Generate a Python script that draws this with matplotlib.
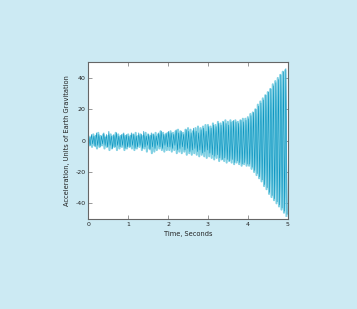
import numpy as np
import matplotlib
matplotlib.use("Agg")
import matplotlib.pyplot as plt

# per-cycle peak values (16 cycles per second, 0-5 s)
dark_max = [2,4,3,5,4,3,5,4,6,3,4,5,3,4,5,4,
            3,5,4,3,5,4,6,3,4,5,4,3,5,6,4,5,
            6,5,4,7,5,6,4,7,6,5,8,6,5,7,8,6,
            9,8,10,9,11,10,12,11,10,12,13,12,11,13,12,13,
            14,16,18,20,22,24,26,29,31,33,35,37,39,42,44,46]
dark_min = [-3,-2,-4,-3,-4,-2,-3,-4,-3,-5,-4,-3,-4,-3,-5,-4,
            -4,-3,-5,-4,-3,-5,-4,-3,-6,-4,-5,-3,-4,-5,-3,-4,
            -4,-5,-3,-6,-5,-4,-6,-5,-7,-6,-5,-7,-6,-8,-7,-6,
            -8,-9,-10,-9,-11,-12,-11,-12,-13,-12,-14,-13,-14,-15,-14,-15,
            -15,-17,-19,-21,-23,-25,-28,-30,-33,-35,-37,-39,-41,-43,-45,-47]
light_max = [3,2,4,3,5,3,4,2,3,4,3,5,4,3,4,3,
             4,3,4,5,3,4,3,5,4,3,4,5,4,6,5,4,
             5,6,5,6,7,6,5,7,8,7,6,8,9,8,9,10,
             10,9,11,10,12,11,12,13,12,13,12,13,12,13,14,14,
             15,17,18,20,23,25,27,29,31,33,36,38,40,42,44,45]
light_min = [-3,-4,-3,-5,-4,-3,-5,-4,-6,-5,-4,-6,-5,-4,-6,-5,
             -4,-5,-6,-5,-4,-6,-5,-7,-5,-8,-7,-6,-5,-6,-7,-6,
             -6,-7,-6,-8,-7,-8,-7,-9,-8,-9,-8,-9,-10,-9,-10,-11,
             -10,-11,-12,-11,-13,-12,-13,-14,-13,-14,-15,-14,-15,-16,-15,-16,
             -16,-18,-20,-22,-24,-26,-29,-31,-34,-36,-38,-40,-42,-44,-46,-48]
duration = 5.0
x_ticks = [0, 1, 2, 3, 4, 5]
y_ticks = [-40, -20, 0, 20, 40]
x_label = "Time, Seconds"
y_label = "Acceleration, Units of Earth Gravitation"


def zigzag(maxs, mins, phase):
    n = len(maxs)
    period = duration / n
    t, v = [0.0], [0.0]
    for k in range(n):
        t.append((k + phase) * period)
        v.append(maxs[k])
        t.append((k + phase + 0.5) * period)
        v.append(mins[k])
    return np.clip(t, 0, duration), np.array(v)


bg = "#cceaf3"
fig = plt.figure(figsize=(3.57, 3.09), dpi=100, facecolor=bg)
ax = fig.add_axes([0.2473, 0.2913, 0.5587, 0.507])
ax.set_facecolor("white")

tl, vl = zigzag(light_max, light_min, 0.0)
ax.plot(tl, vl, color="#80d0e3", lw=1.5)
td, vd = zigzag(dark_max, dark_min, 0.25)
ax.plot(td, vd, color="#0d97c3", lw=0.45)

ax.set_xlim(0, duration)
ax.set_ylim(-50, 50)
ax.set_xticks(x_ticks)
ax.set_xticklabels([str(v) for v in x_ticks])
ax.set_yticks(y_ticks)
ax.set_yticklabels([str(v).replace("\u2212", "-") for v in y_ticks])
ax.tick_params(direction="in", length=3, width=0.6, color="#888888",
               top=True, right=True, labelsize=4.5, pad=2,
               labelcolor="#222222")
for s in ax.spines.values():
    s.set_color("#666666")
    s.set_linewidth(0.8)
ax.set_xlabel(x_label, fontsize=4.8, labelpad=3, color="#222222")
ax.set_ylabel(y_label, fontsize=4.8, labelpad=4, color="#222222")

fig.savefig("out.png", dpi=100, facecolor=bg)
